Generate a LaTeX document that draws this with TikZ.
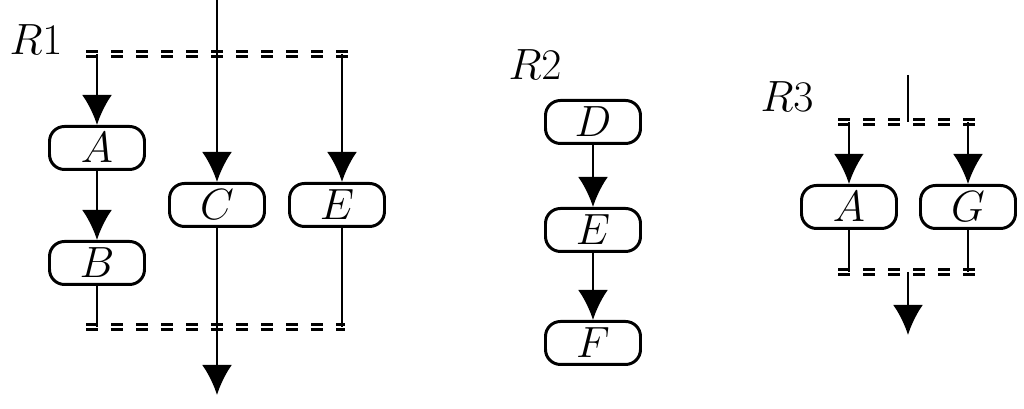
\documentclass[tikz,border=0pt]{standalone}
\usepackage{tikz}
\usetikzlibrary{arrows.meta}
\tikzset{
  act/.style={draw, line width=1.7pt, rounded corners=0.3cm, minimum width=1.9cm, minimum height=0.86cm, inner sep=0pt, font=\fontsize{26}{28}\selectfont},
  lbl/.style={font=\fontsize{26}{28}\selectfont},
  flow/.style={line width=1.7pt},
  go/.style={line width=1.7pt, -{Latex[length=0.6cm,width=0.6cm]}},
  bar/.style={double, line width=1.2pt, double distance=1.6pt, dash pattern=on 0.24cm off 0.26cm}
}
\begin{document}
\begin{tikzpicture}
\useasboundingbox (0,0) rectangle (20.48,8.18);
% region R1
\node[lbl] (r1) at (0.72,7.38) {$R1$};
\coordinate (t1) at (4.34,8.18);
\coordinate (fl) at (1.72,7.1);
\coordinate (fr) at (7.0,7.1);
\coordinate (fa) at (1.94,7.1);
\coordinate (fc) at (4.34,7.1);
\coordinate (fe) at (6.84,7.1);
\node[act] (a1) at (1.94,5.22) {$A$};
\node[act] (b1) at (1.94,2.92) {$B$};
\node[act] (c1) at (4.34,4.08) {$C$};
\node[act] (e1) at (6.74,4.08) {$E$};
\coordinate (jl) at (1.72,1.64);
\coordinate (jr) at (6.9,1.64);
\coordinate (jb) at (1.94,1.64);
\coordinate (je) at (6.84,1.64);
\coordinate (o1) at (4.34,0.28);
\draw[bar] (fl) -- (fr);
\draw[bar] (jl) -- (jr);
\draw[go] (t1) -- (c1);
\draw[go] (fa) -- (a1);
\draw[go] (a1) -- (b1);
\draw[go] (fe) -- (e1.north -| fe);
\draw[flow] (b1) -- (jb);
\draw[flow] (e1.south -| je) -- (je);
\draw[go] (c1) -- (o1);
% region R2
\node[lbl] (r2) at (10.7,6.88) {$R2$};
\node[act] (d2) at (11.86,5.74) {$D$};
\node[act] (e2) at (11.86,3.58) {$E$};
\node[act] (f2) at (11.86,1.32) {$F$};
\draw[go] (d2) -- (e2);
\draw[go] (e2) -- (f2);
% region R3
\node[lbl] (r3) at (15.74,6.24) {$R3$};
\coordinate (t3) at (18.16,6.68);
\coordinate (gl) at (16.76,5.74);
\coordinate (gr) at (19.5,5.74);
\coordinate (gm) at (18.16,5.74);
\node[act] (a3) at (16.98,4.04) {$A$};
\node[act] (g3) at (19.36,4.04) {$G$};
\coordinate (hl) at (16.76,2.74);
\coordinate (hr) at (19.5,2.74);
\coordinate (hm) at (18.16,2.74);
\coordinate (o3) at (18.16,1.48);
\draw[bar] (gl) -- (gr);
\draw[bar] (hl) -- (hr);
\draw[flow] (t3) -- (gm);
\draw[go] (gl -| a3) -- (a3);
\draw[go] (gr -| g3) -- (g3);
\draw[flow] (a3) -- (hl -| a3);
\draw[flow] (g3) -- (hr -| g3);
\draw[go] (hm) -- (o3);
\end{tikzpicture}
\end{document}
